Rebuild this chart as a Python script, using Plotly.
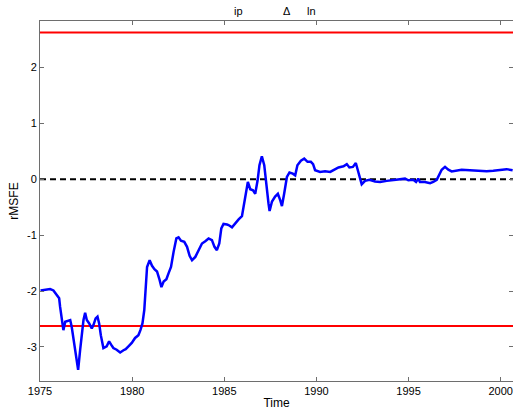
import plotly.graph_objects as go

years = [1975.03, 1975.28, 1975.55, 1975.73, 1975.91, 1976.04, 1976.09, 1976.18, 1976.27, 1976.37,
         1976.51, 1976.64, 1976.72, 1976.82, 1976.94, 1977.07, 1977.18, 1977.27, 1977.36, 1977.45,
         1977.54, 1977.67, 1977.81, 1977.90, 1978.02, 1978.12, 1978.21, 1978.30, 1978.44, 1978.62,
         1978.75, 1978.86, 1978.98, 1979.16, 1979.35, 1979.53, 1979.65, 1979.80, 1979.98, 1980.16,
         1980.34, 1980.45, 1980.56, 1980.66, 1980.72, 1980.81, 1980.95, 1981.08, 1981.21, 1981.35,
         1981.49, 1981.59, 1981.71, 1981.86, 1981.98, 1982.11, 1982.25, 1982.40, 1982.52, 1982.65,
         1982.83, 1982.98, 1983.12, 1983.25, 1983.43, 1983.61, 1983.79, 1983.97, 1984.15, 1984.33,
         1984.47, 1984.60, 1984.73, 1984.84, 1984.96, 1985.15, 1985.23, 1985.42, 1985.60, 1985.78,
         1985.96, 1986.05, 1986.19, 1986.28, 1986.41, 1986.56, 1986.68, 1986.81, 1986.91, 1987.04,
         1987.17, 1987.28, 1987.40, 1987.46, 1987.59, 1987.76, 1987.91, 1988.04, 1988.13, 1988.25,
         1988.40, 1988.54, 1988.72, 1988.85, 1988.97, 1989.16, 1989.34, 1989.52, 1989.70, 1989.82,
         1989.93, 1990.20, 1990.47, 1990.75, 1990.92, 1991.20, 1991.47, 1991.65, 1991.79, 1991.98,
         1992.14, 1992.22, 1992.33, 1992.46, 1992.64, 1992.88, 1993.18, 1993.46, 1993.82, 1994.18,
         1994.54, 1994.81, 1994.99, 1995.26, 1995.41, 1995.53, 1995.62, 1995.89, 1996.17, 1996.34,
         1996.53, 1996.67, 1996.80, 1996.98, 1997.16, 1997.34, 1997.61, 1997.88, 1998.33, 1998.87,
         1999.24, 1999.60, 1999.96, 2000.32, 2000.65]

rmsfe = [-1.99, -1.98, -1.965, -1.99, -2.07, -2.13, -2.28, -2.52, -2.70, -2.55,
         -2.53, -2.52, -2.64, -2.875, -3.11, -3.41, -3.05, -2.76, -2.52, -2.39,
         -2.52, -2.58, -2.67, -2.61, -2.49, -2.46, -2.58, -2.79, -3.02, -2.99,
         -2.90, -2.96, -3.02, -3.05, -3.10, -3.06, -3.04, -2.99, -2.93, -2.84,
         -2.79, -2.70, -2.58, -2.34, -1.92, -1.57, -1.45, -1.55, -1.61, -1.65,
         -1.80, -1.93, -1.83, -1.79, -1.68, -1.57, -1.30, -1.06, -1.04, -1.10,
         -1.12, -1.21, -1.37, -1.45, -1.39, -1.27, -1.15, -1.11, -1.06, -1.09,
         -1.21, -1.27, -1.15, -0.88, -0.80, -0.81, -0.82, -0.86, -0.78, -0.72,
         -0.66, -0.49, -0.20, -0.05, -0.18, -0.20, -0.26, -0.02, 0.25, 0.41,
         0.25, -0.14, -0.43, -0.57, -0.40, -0.31, -0.26, -0.38, -0.48, -0.26,
         0.04, 0.12, 0.10, 0.07, 0.25, 0.33, 0.37, 0.31, 0.31, 0.27,
         0.16, 0.13, 0.14, 0.13, 0.16, 0.21, 0.23, 0.27, 0.21, 0.22,
         0.29, 0.19, 0.04, -0.09, -0.03, -0.01, -0.04, -0.05, -0.03, -0.02,
         -0.01, 0.01, -0.02, -0.01, -0.05, 0.01, -0.05, -0.05, -0.07, -0.05,
         -0.01, 0.10, 0.17, 0.22, 0.17, 0.14, 0.16, 0.17, 0.16, 0.15,
         0.14, 0.15, 0.17, 0.18, 0.16]

critical_value = 2.625
zero_level = 0.0
x_span = [1975.0, 2000.67]
y_span = [-3.61, 2.83]
x_ticks = [1975, 1980, 1985, 1990, 1995, 2000]
y_ticks = [-3, -2, -1, 0, 1, 2]
title_parts = ["ip", "Δ", "ln"]

FONT = "Liberation Sans, Arial, sans-serif"
AXC = "#6e6e6e"

fig = go.Figure()
for cv in (critical_value, -critical_value):
    fig.add_trace(go.Scatter(x=x_span, y=[cv, cv], mode="lines",
                             line=dict(color="#ff0000", width=2), hoverinfo="skip"))
fig.add_trace(go.Scatter(x=x_span, y=[zero_level, zero_level], mode="lines",
                         line=dict(color="#000000", width=2, dash="6px,4px"), hoverinfo="skip"))
fig.add_trace(go.Scatter(x=years, y=rmsfe, mode="lines",
                         line=dict(color="#0000ff", width=2.5)))

title_x = [0.419, 0.522, 0.573]
for t, px in zip(title_parts, title_x):
    fig.add_annotation(text=t, x=px, y=1, xref="paper", yref="paper",
                       xanchor="center", yanchor="bottom", yshift=2, showarrow=False,
                       font=dict(family=FONT, size=11, color="#000"))

fig.update_layout(
    width=513, height=414,
    margin=dict(l=40, r=0, t=21, b=33, autoexpand=False),
    paper_bgcolor="white", plot_bgcolor="white",
    showlegend=False,
    font=dict(family=FONT, size=11, color="#000"),
    xaxis=dict(range=x_span, tickvals=x_ticks, ticktext=[str(v) for v in x_ticks],
               ticks="inside", ticklen=4, tickcolor=AXC, showline=True, linecolor=AXC,
               linewidth=1, mirror="ticks", showgrid=False, zeroline=False,
               title=dict(text="Time", font=dict(size=12), standoff=2),
               tickfont=dict(size=11), automargin=False),
    yaxis=dict(range=y_span, tickvals=y_ticks, ticktext=[str(v) for v in y_ticks],
               ticks="inside", ticklen=4, tickcolor=AXC, showline=True, linecolor=AXC,
               linewidth=1, mirror="ticks", showgrid=False, zeroline=False,
               title=dict(text="rMSFE", font=dict(size=12), standoff=5),
               tickfont=dict(size=11), automargin=False),
)

fig.write_html("out.html", config={"displayModeBar": False},
               post_script="document.body.style.margin='0';document.body.style.overflow='hidden';")
